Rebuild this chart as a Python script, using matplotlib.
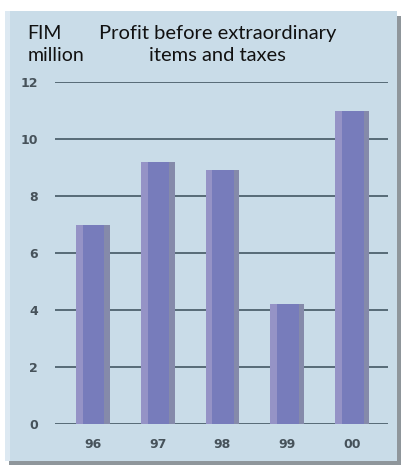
import matplotlib.pyplot as plt
from matplotlib.patches import Rectangle

# Données du graphique
annees = ["96", "97", "98", "99", "00"]
profit = [7.0, 9.2, 8.9, 4.2, 11.0]
graduations = [0, 2, 4, 6, 8, 10, 12]

fig = plt.figure(figsize=(4.06, 4.71), dpi=100)
fig.patch.set_facecolor("white")

# Panneau bleu clair avec ombre portée
ombre = Rectangle((0.022, 0.012), 0.965, 0.955, transform=fig.transFigure,
                  facecolor="#8f969b", edgecolor="none", zorder=0)
panneau = Rectangle((0.012, 0.022), 0.965, 0.955, transform=fig.transFigure,
                    facecolor="#c9dce8", edgecolor="none", zorder=0)
bord = Rectangle((0.012, 0.022), 0.012, 0.955, transform=fig.transFigure,
                 facecolor="#dde9f2", edgecolor="none", zorder=0)
fig.patches.extend([ombre, panneau, bord])

ax = fig.add_axes([0.135, 0.0998, 0.821, 0.726])
ax.set_zorder(2)
ax.set_facecolor("none")

x = range(len(annees))
largeur = 0.52
# Barres principales, bord gauche clair et côté droit grisé
ax.bar(x, profit, width=largeur, color="#777cbb", zorder=3)
ax.bar([i - largeur * 0.4 for i in x], profit, width=largeur * 0.2,
       color="#9593c6", zorder=3)
ax.bar([i + largeur * 0.42 for i in x], profit, width=largeur * 0.16,
       color="#858aaa", zorder=3)

for g in graduations:
    ax.axhline(g, color="#566a76", linewidth=1.4, zorder=2)

ax.set_xlim(-0.587, 4.556)
ax.set_ylim(0, 12)
ax.set_xticks(list(x))
ax.set_xticklabels(annees)
ax.set_yticks(graduations)
ax.set_yticklabels([str(g) for g in graduations])
ax.tick_params(length=0, colors="#46525a", labelsize=9)
ax.tick_params(axis="y", pad=12)
ax.tick_params(axis="x", pad=10)
for lab in ax.get_xticklabels() + ax.get_yticklabels():
    lab.set_fontweight("bold")
for s in ax.spines.values():
    s.set_visible(False)

fig.text(0.067, 0.906, "FIM\nmillion", fontsize=14, color="#111111",
         ha="left", va="center", linespacing=1.32, family="Lato")
fig.text(0.535, 0.906, "Profit before extraordinary\nitems and taxes",
         fontsize=14.5, color="#111111", ha="center", va="center",
         linespacing=1.32, family="Lato")

plt.savefig("out.png", dpi=100)
plt.close()
